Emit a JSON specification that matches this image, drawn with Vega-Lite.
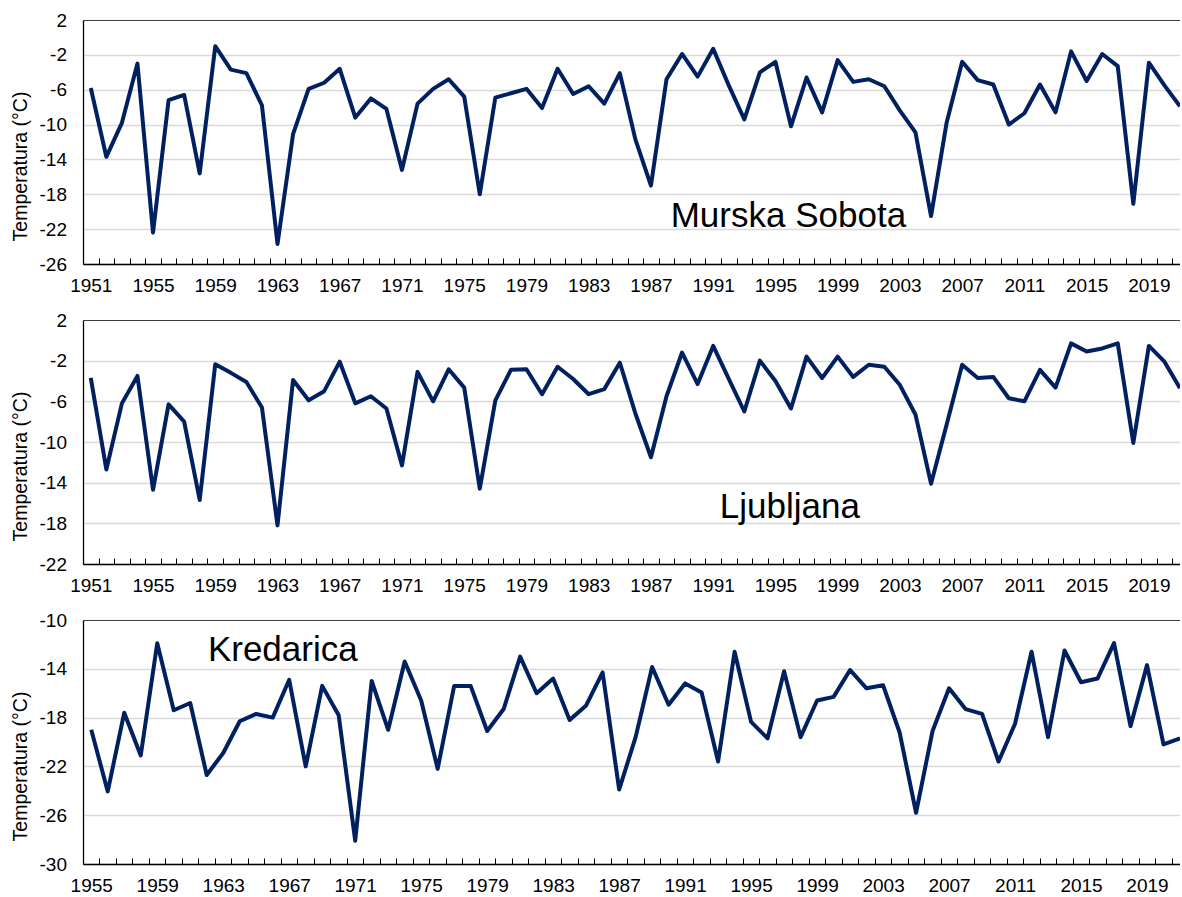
{
  "$schema": "https://vega.github.io/schema/vega-lite/v6.json",
  "background": "white",
  "padding": {"left": 10, "top": 11, "right": 0, "bottom": 0},
  "bounds": "flush",
  "spacing": 56,
  "config": {
    "view": {"stroke": null},
    "font": "Liberation Sans",
    "axis": {
      "labelFont": "Liberation Sans",
      "labelFontSize": 19,
      "labelColor": "#000000",
      "titleFont": "Liberation Sans",
      "titleFontSize": 19.5,
      "titleFontWeight": "normal",
      "titleColor": "#000000",
      "domainColor": "#000000",
      "domainWidth": 1.3,
      "tickColor": "#000000",
      "tickWidth": 1,
      "tickCount": 1000,
      "tickMinStep": 0.25,
      "labelOverlap": false
    }
  },
  "datasets": {
    "murska": [
      {"year": 1951, "temp": -5.8}, {"year": 1952, "temp": -13.7}, {"year": 1953, "temp": -9.8}, {"year": 1954, "temp": -3.0},
      {"year": 1955, "temp": -22.4}, {"year": 1956, "temp": -7.2}, {"year": 1957, "temp": -6.6}, {"year": 1958, "temp": -15.6},
      {"year": 1959, "temp": -1.0}, {"year": 1960, "temp": -3.7}, {"year": 1961, "temp": -4.1}, {"year": 1962, "temp": -7.8},
      {"year": 1963, "temp": -23.7}, {"year": 1964, "temp": -11.1}, {"year": 1965, "temp": -5.9}, {"year": 1966, "temp": -5.2},
      {"year": 1967, "temp": -3.6}, {"year": 1968, "temp": -9.2}, {"year": 1969, "temp": -7.0}, {"year": 1970, "temp": -8.2},
      {"year": 1971, "temp": -15.2}, {"year": 1972, "temp": -7.6}, {"year": 1973, "temp": -5.9}, {"year": 1974, "temp": -4.8},
      {"year": 1975, "temp": -6.8}, {"year": 1976, "temp": -18.0}, {"year": 1977, "temp": -6.9}, {"year": 1978, "temp": -6.4},
      {"year": 1979, "temp": -5.9}, {"year": 1980, "temp": -8.1}, {"year": 1981, "temp": -3.6}, {"year": 1982, "temp": -6.5},
      {"year": 1983, "temp": -5.6}, {"year": 1984, "temp": -7.6}, {"year": 1985, "temp": -4.1}, {"year": 1986, "temp": -11.7},
      {"year": 1987, "temp": -17.0}, {"year": 1988, "temp": -4.8}, {"year": 1989, "temp": -1.9}, {"year": 1990, "temp": -4.5},
      {"year": 1991, "temp": -1.3}, {"year": 1992, "temp": -5.5}, {"year": 1993, "temp": -9.4}, {"year": 1994, "temp": -4.0},
      {"year": 1995, "temp": -2.8}, {"year": 1996, "temp": -10.2}, {"year": 1997, "temp": -4.6}, {"year": 1998, "temp": -8.6},
      {"year": 1999, "temp": -2.6}, {"year": 2000, "temp": -5.1}, {"year": 2001, "temp": -4.8}, {"year": 2002, "temp": -5.6},
      {"year": 2003, "temp": -8.4}, {"year": 2004, "temp": -10.9}, {"year": 2005, "temp": -20.5}, {"year": 2006, "temp": -9.8},
      {"year": 2007, "temp": -2.8}, {"year": 2008, "temp": -4.9}, {"year": 2009, "temp": -5.4}, {"year": 2010, "temp": -10.0},
      {"year": 2011, "temp": -8.7}, {"year": 2012, "temp": -5.4}, {"year": 2013, "temp": -8.6}, {"year": 2014, "temp": -1.6},
      {"year": 2015, "temp": -5.0}, {"year": 2016, "temp": -1.9}, {"year": 2017, "temp": -3.3}, {"year": 2018, "temp": -19.1},
      {"year": 2019, "temp": -2.9}, {"year": 2020, "temp": -5.5}, {"year": 2021, "temp": -7.9}
    ],
    "ljubljana": [
      {"year": 1951, "temp": -3.7}, {"year": 1952, "temp": -12.7}, {"year": 1953, "temp": -6.2}, {"year": 1954, "temp": -3.5},
      {"year": 1955, "temp": -14.7}, {"year": 1956, "temp": -6.3}, {"year": 1957, "temp": -8.0}, {"year": 1958, "temp": -15.7},
      {"year": 1959, "temp": -2.35}, {"year": 1960, "temp": -3.2}, {"year": 1961, "temp": -4.1}, {"year": 1962, "temp": -6.6},
      {"year": 1963, "temp": -18.2}, {"year": 1964, "temp": -3.9}, {"year": 1965, "temp": -5.9}, {"year": 1966, "temp": -5.0},
      {"year": 1967, "temp": -2.1}, {"year": 1968, "temp": -6.2}, {"year": 1969, "temp": -5.5}, {"year": 1970, "temp": -6.7},
      {"year": 1971, "temp": -12.3}, {"year": 1972, "temp": -3.1}, {"year": 1973, "temp": -6.0}, {"year": 1974, "temp": -2.85},
      {"year": 1975, "temp": -4.65}, {"year": 1976, "temp": -14.6}, {"year": 1977, "temp": -5.9}, {"year": 1978, "temp": -2.9},
      {"year": 1979, "temp": -2.85}, {"year": 1980, "temp": -5.3}, {"year": 1981, "temp": -2.6}, {"year": 1982, "temp": -3.8},
      {"year": 1983, "temp": -5.3}, {"year": 1984, "temp": -4.8}, {"year": 1985, "temp": -2.2}, {"year": 1986, "temp": -7.2},
      {"year": 1987, "temp": -11.5}, {"year": 1988, "temp": -5.5}, {"year": 1989, "temp": -1.2}, {"year": 1990, "temp": -4.3},
      {"year": 1991, "temp": -0.55}, {"year": 1992, "temp": -3.8}, {"year": 1993, "temp": -7.0}, {"year": 1994, "temp": -2.0},
      {"year": 1995, "temp": -4.0}, {"year": 1996, "temp": -6.7}, {"year": 1997, "temp": -1.6}, {"year": 1998, "temp": -3.7},
      {"year": 1999, "temp": -1.6}, {"year": 2000, "temp": -3.6}, {"year": 2001, "temp": -2.4}, {"year": 2002, "temp": -2.6},
      {"year": 2003, "temp": -4.4}, {"year": 2004, "temp": -7.3}, {"year": 2005, "temp": -14.1}, {"year": 2006, "temp": -8.3},
      {"year": 2007, "temp": -2.4}, {"year": 2008, "temp": -3.7}, {"year": 2009, "temp": -3.6}, {"year": 2010, "temp": -5.7},
      {"year": 2011, "temp": -6.0}, {"year": 2012, "temp": -2.9}, {"year": 2013, "temp": -4.65}, {"year": 2014, "temp": -0.3},
      {"year": 2015, "temp": -1.1}, {"year": 2016, "temp": -0.8}, {"year": 2017, "temp": -0.3}, {"year": 2018, "temp": -10.1},
      {"year": 2019, "temp": -0.55}, {"year": 2020, "temp": -2.1}, {"year": 2021, "temp": -4.7}
    ],
    "kredarica": [
      {"year": 1955, "temp": -19.0}, {"year": 1956, "temp": -24.05}, {"year": 1957, "temp": -17.6}, {"year": 1958, "temp": -21.1},
      {"year": 1959, "temp": -11.9}, {"year": 1960, "temp": -17.4}, {"year": 1961, "temp": -16.8}, {"year": 1962, "temp": -22.7},
      {"year": 1963, "temp": -20.9}, {"year": 1964, "temp": -18.3}, {"year": 1965, "temp": -17.7}, {"year": 1966, "temp": -18.0},
      {"year": 1967, "temp": -14.9}, {"year": 1968, "temp": -22.0}, {"year": 1969, "temp": -15.4}, {"year": 1970, "temp": -17.8},
      {"year": 1971, "temp": -28.1}, {"year": 1972, "temp": -15.0}, {"year": 1973, "temp": -19.0}, {"year": 1974, "temp": -13.4},
      {"year": 1975, "temp": -16.6}, {"year": 1976, "temp": -22.2}, {"year": 1977, "temp": -15.4}, {"year": 1978, "temp": -15.4},
      {"year": 1979, "temp": -19.1}, {"year": 1980, "temp": -17.3}, {"year": 1981, "temp": -13.0}, {"year": 1982, "temp": -16.0},
      {"year": 1983, "temp": -14.8}, {"year": 1984, "temp": -18.2}, {"year": 1985, "temp": -17.0}, {"year": 1986, "temp": -14.3},
      {"year": 1987, "temp": -23.9}, {"year": 1988, "temp": -19.6}, {"year": 1989, "temp": -13.85}, {"year": 1990, "temp": -16.95},
      {"year": 1991, "temp": -15.2}, {"year": 1992, "temp": -15.95}, {"year": 1993, "temp": -21.6}, {"year": 1994, "temp": -12.6},
      {"year": 1995, "temp": -18.35}, {"year": 1996, "temp": -19.7}, {"year": 1997, "temp": -14.2}, {"year": 1998, "temp": -19.6},
      {"year": 1999, "temp": -16.6}, {"year": 2000, "temp": -16.3}, {"year": 2001, "temp": -14.1}, {"year": 2002, "temp": -15.6},
      {"year": 2003, "temp": -15.35}, {"year": 2004, "temp": -19.2}, {"year": 2005, "temp": -25.8}, {"year": 2006, "temp": -19.1},
      {"year": 2007, "temp": -15.6}, {"year": 2008, "temp": -17.3}, {"year": 2009, "temp": -17.7}, {"year": 2010, "temp": -21.6},
      {"year": 2011, "temp": -18.5}, {"year": 2012, "temp": -12.6}, {"year": 2013, "temp": -19.6}, {"year": 2014, "temp": -12.5},
      {"year": 2015, "temp": -15.1}, {"year": 2016, "temp": -14.8}, {"year": 2017, "temp": -11.9}, {"year": 2018, "temp": -18.7},
      {"year": 2019, "temp": -13.7}, {"year": 2020, "temp": -20.2}, {"year": 2021, "temp": -19.7}
    ]
  },
  "vconcat": [
    {
      "width": 1097,
      "height": 244,
      "layer": [
        {
          "data": {"name": "murska"},
          "mark": {"type": "line", "color": "#002060", "strokeWidth": 4, "clip": true, "strokeJoin": "round"},
          "encoding": {
            "x": {
              "field": "year", "type": "quantitative",
              "scale": {"domain": [1950.5, 2021], "nice": false, "zero": false},
              "axis": {
                "title": null, "grid": false, "format": "d", "tickCount": 1000, "tickMinStep": 0.25,
                "values": [1950.5,1951.5,1952.5,1953.5,1954.5,1955.5,1956.5,1957.5,1958.5,1959.5,1960.5,1961.5,1962.5,1963.5,1964.5,1965.5,1966.5,1967.5,1968.5,1969.5,1970.5,1971.5,1972.5,1973.5,1974.5,1975.5,1976.5,1977.5,1978.5,1979.5,1980.5,1981.5,1982.5,1983.5,1984.5,1985.5,1986.5,1987.5,1988.5,1989.5,1990.5,1991.5,1992.5,1993.5,1994.5,1995.5,1996.5,1997.5,1998.5,1999.5,2000.5,2001.5,2002.5,2003.5,2004.5,2005.5,2006.5,2007.5,2008.5,2009.5,2010.5,2011.5,2012.5,2013.5,2014.5,2015.5,2016.5,2017.5,2018.5,2019.5,2020.5,1951,1955,1959,1963,1967,1971,1975,1979,1983,1987,1991,1995,1999,2003,2007,2011,2015,2019],
                "labelExpr": "datum.value % 1 == 0 ? datum.label : ''",
                "labelOverlap": false, "labelFlush": false, "labelBound": false,
                "tickSize": -6, "labelPadding": 18,
                "tickOpacity": {"condition": {"test": "datum.value % 1 == 0", "value": 0}, "value": 1}
              }
            },
            "y": {
              "field": "temp", "type": "quantitative",
              "scale": {"domain": [-26, 2], "nice": false, "zero": false},
              "axis": {
                "values": [-26, -22, -18, -14, -10, -6, -2, 2],
                "tickCount": 1000, "labelOverlap": false,
                "labelExpr": "'' + datum.value",
                "title": "Temperatura (°C)",
                "titleX": -56.5, "titleY": 146, "titleAngle": -90,
                "titleBaseline": "alphabetic", "titleAlign": "center",
                "ticks": false, "tickSize": 0, "labelPadding": 16.5,
                "grid": true,
                "gridColor": {"condition": {"test": "datum.value == 2", "value": "#404040"}, "value": "#d9d9d9"},
                "gridWidth": {"condition": {"test": "datum.value == 2", "value": 1.2}, "value": 1.5}
              }
            }
          }
        },
        {
          "data": {"values": [{}]},
          "mark": {"type": "text", "text": "Murska Sobota", "font": "Liberation Sans", "fontSize": 35, "align": "left", "baseline": "alphabetic", "color": "#000000"},
          "encoding": {
            "x": {"datum": 1988.27, "type": "quantitative"},
            "y": {"datum": -21.7, "type": "quantitative"}
          }
        }
      ]
    },
    {
      "width": 1097,
      "height": 244,
      "layer": [
        {
          "data": {"name": "ljubljana"},
          "mark": {"type": "line", "color": "#002060", "strokeWidth": 4, "clip": true, "strokeJoin": "round"},
          "encoding": {
            "x": {
              "field": "year", "type": "quantitative",
              "scale": {"domain": [1950.5, 2021], "nice": false, "zero": false},
              "axis": {
                "title": null, "grid": false, "format": "d", "tickCount": 1000, "tickMinStep": 0.25,
                "values": [1950.5,1951.5,1952.5,1953.5,1954.5,1955.5,1956.5,1957.5,1958.5,1959.5,1960.5,1961.5,1962.5,1963.5,1964.5,1965.5,1966.5,1967.5,1968.5,1969.5,1970.5,1971.5,1972.5,1973.5,1974.5,1975.5,1976.5,1977.5,1978.5,1979.5,1980.5,1981.5,1982.5,1983.5,1984.5,1985.5,1986.5,1987.5,1988.5,1989.5,1990.5,1991.5,1992.5,1993.5,1994.5,1995.5,1996.5,1997.5,1998.5,1999.5,2000.5,2001.5,2002.5,2003.5,2004.5,2005.5,2006.5,2007.5,2008.5,2009.5,2010.5,2011.5,2012.5,2013.5,2014.5,2015.5,2016.5,2017.5,2018.5,2019.5,2020.5,1951,1955,1959,1963,1967,1971,1975,1979,1983,1987,1991,1995,1999,2003,2007,2011,2015,2019],
                "labelExpr": "datum.value % 1 == 0 ? datum.label : ''",
                "labelOverlap": false, "labelFlush": false, "labelBound": false,
                "tickSize": -6, "labelPadding": 18,
                "tickOpacity": {"condition": {"test": "datum.value % 1 == 0", "value": 0}, "value": 1}
              }
            },
            "y": {
              "field": "temp", "type": "quantitative",
              "scale": {"domain": [-22, 2], "nice": false, "zero": false},
              "axis": {
                "values": [-22, -18, -14, -10, -6, -2, 2],
                "tickCount": 1000, "labelOverlap": false,
                "labelExpr": "'' + datum.value",
                "title": "Temperatura (°C)",
                "titleX": -56.5, "titleY": 146, "titleAngle": -90,
                "titleBaseline": "alphabetic", "titleAlign": "center",
                "ticks": false, "tickSize": 0, "labelPadding": 16.5,
                "grid": true,
                "gridColor": {"condition": {"test": "datum.value == 2", "value": "#404040"}, "value": "#d9d9d9"},
                "gridWidth": {"condition": {"test": "datum.value == 2", "value": 1.2}, "value": 1.5}
              }
            }
          }
        },
        {
          "data": {"values": [{}]},
          "mark": {"type": "text", "text": "Ljubljana", "font": "Liberation Sans", "fontSize": 35, "align": "left", "baseline": "alphabetic", "color": "#000000"},
          "encoding": {
            "x": {"datum": 1991.42, "type": "quantitative"},
            "y": {"datum": -17.44, "type": "quantitative"}
          }
        }
      ]
    },
    {
      "width": 1097,
      "height": 244,
      "layer": [
        {
          "data": {"name": "kredarica"},
          "mark": {"type": "line", "color": "#002060", "strokeWidth": 4, "clip": true, "strokeJoin": "round"},
          "encoding": {
            "x": {
              "field": "year", "type": "quantitative",
              "scale": {"domain": [1954.5, 2021], "nice": false, "zero": false},
              "axis": {
                "title": null, "grid": false, "format": "d", "tickCount": 1000, "tickMinStep": 0.25,
                "values": [1954.5,1955.5,1956.5,1957.5,1958.5,1959.5,1960.5,1961.5,1962.5,1963.5,1964.5,1965.5,1966.5,1967.5,1968.5,1969.5,1970.5,1971.5,1972.5,1973.5,1974.5,1975.5,1976.5,1977.5,1978.5,1979.5,1980.5,1981.5,1982.5,1983.5,1984.5,1985.5,1986.5,1987.5,1988.5,1989.5,1990.5,1991.5,1992.5,1993.5,1994.5,1995.5,1996.5,1997.5,1998.5,1999.5,2000.5,2001.5,2002.5,2003.5,2004.5,2005.5,2006.5,2007.5,2008.5,2009.5,2010.5,2011.5,2012.5,2013.5,2014.5,2015.5,2016.5,2017.5,2018.5,2019.5,2020.5,1955,1959,1963,1967,1971,1975,1979,1983,1987,1991,1995,1999,2003,2007,2011,2015,2019],
                "labelExpr": "datum.value % 1 == 0 ? datum.label : ''",
                "labelOverlap": false, "labelFlush": false, "labelBound": false,
                "tickSize": -6, "labelPadding": 18,
                "tickOpacity": {"condition": {"test": "datum.value % 1 == 0", "value": 0}, "value": 1}
              }
            },
            "y": {
              "field": "temp", "type": "quantitative",
              "scale": {"domain": [-30, -10], "nice": false, "zero": false},
              "axis": {
                "values": [-30, -26, -22, -18, -14, -10],
                "tickCount": 1000, "labelOverlap": false,
                "labelExpr": "'' + datum.value",
                "title": "Temperatura (°C)",
                "titleX": -56.5, "titleY": 146, "titleAngle": -90,
                "titleBaseline": "alphabetic", "titleAlign": "center",
                "ticks": false, "tickSize": 0, "labelPadding": 16.5,
                "grid": true,
                "gridColor": {"condition": {"test": "datum.value == -10", "value": "#404040"}, "value": "#d9d9d9"},
                "gridWidth": {"condition": {"test": "datum.value == -10", "value": 1.2}, "value": 1.5}
              }
            }
          }
        },
        {
          "data": {"values": [{}]},
          "mark": {"type": "text", "text": "Kredarica", "font": "Liberation Sans", "fontSize": 35, "align": "left", "baseline": "alphabetic", "color": "#000000"},
          "encoding": {
            "x": {"datum": 1962.07, "type": "quantitative"},
            "y": {"datum": -13.36, "type": "quantitative"}
          }
        }
      ]
    }
  ]
}
